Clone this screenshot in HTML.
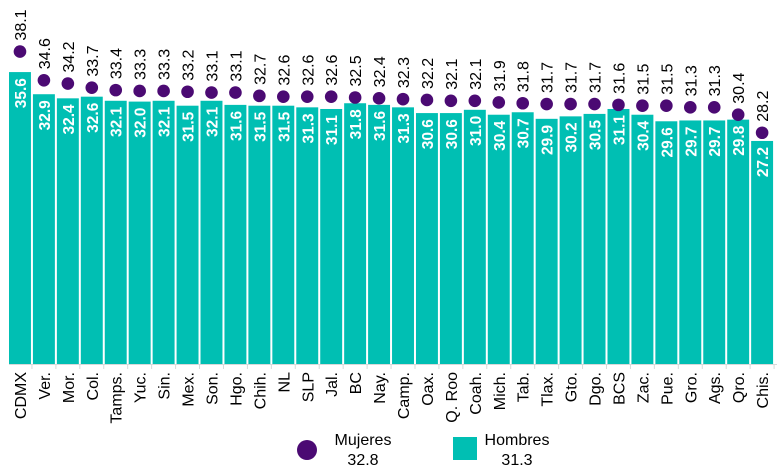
<!DOCTYPE html>
<html><head><meta charset="utf-8"><style>body{margin:0;background:#fff}svg{display:block}</style></head><body>
<svg id="s" width="783" height="474" xmlns="http://www.w3.org/2000/svg" font-family="Liberation Sans, Arial, sans-serif"></svg>
<script>
const d=[["CDMX",35.6,38.1],["Ver.",32.9,34.6],["Mor.",32.4,34.2],["Col.",32.6,33.7],["Tamps.",32.1,33.4],["Yuc.",32.0,33.3],["Sin.",32.1,33.3],["Mex.",31.5,33.2],["Son.",32.1,33.1],["Hgo.",31.6,33.1],["Chih.",31.5,32.7],["NL",31.5,32.6],["SLP",31.3,32.6],["Jal.",31.1,32.6],["BC",31.8,32.5],["Nay.",31.6,32.4],["Camp.",31.3,32.3],["Oax.",30.6,32.2],["Q. Roo",30.6,32.1],["Coah.",31.0,32.1],["Mich.",30.4,31.9],["Tab.",30.7,31.8],["Tlax.",29.9,31.7],["Gto.",30.2,31.7],["Dgo.",30.5,31.7],["BCS",31.1,31.6],["Zac.",30.4,31.5],["Pue.",29.6,31.5],["Gro.",29.7,31.3],["Ags.",29.7,31.3],["Qro.",29.8,30.4],["Chis.",27.2,28.2]];
const B=364,K=8.2,x0=9,P=23.94;let h='';
h+=`<line x1="${x0}" y1="${B+0.5}" x2="777" y2="${B+0.5}" stroke="#d9d9d9"/>`;
d.forEach((r,i)=>{const x=x0+i*P,w=P-2,cx=x+w/2,t=B-r[1]*K,dy=B-r[2]*K;
h+=`<rect x="${x}" y="${t}" width="${w}" height="${B-t}" fill="#00bfb3"/>`;
h+=`<line x1="${x+P-1}" y1="${B}" x2="${x+P-1}" y2="${B+5}" stroke="#d9d9d9"/>`;
h+=`<text transform="translate(${cx+6},${t+6}) rotate(-90)" text-anchor="end" font-size="15.5" font-weight="bold" fill="#fff">${r[1].toFixed(1)}</text>`;
h+=`<circle cx="${cx}" cy="${dy}" r="6.3" fill="#4b0a73"/>`;
h+=`<text transform="translate(${cx+6},${dy-11}) rotate(-90)" font-size="16" fill="#000">${r[2].toFixed(1)}</text>`;
h+=`<text transform="translate(${cx+6},${B+8}) rotate(-90)" text-anchor="end" font-size="16" fill="#000">${r[0]}</text>`;
});
h+=`<circle cx="307" cy="450" r="10" fill="#4b0a73"/><text x="363" y="445" text-anchor="middle" font-size="16">Mujeres</text><text x="363" y="465" text-anchor="middle" font-size="16">32.8</text>`;
h+=`<rect x="453" y="437" width="24" height="23" fill="#00bfb3"/><text x="517" y="445" text-anchor="middle" font-size="16">Hombres</text><text x="517" y="465" text-anchor="middle" font-size="16">31.3</text>`;
document.getElementById('s').innerHTML=h;
</script>
</body></html>
